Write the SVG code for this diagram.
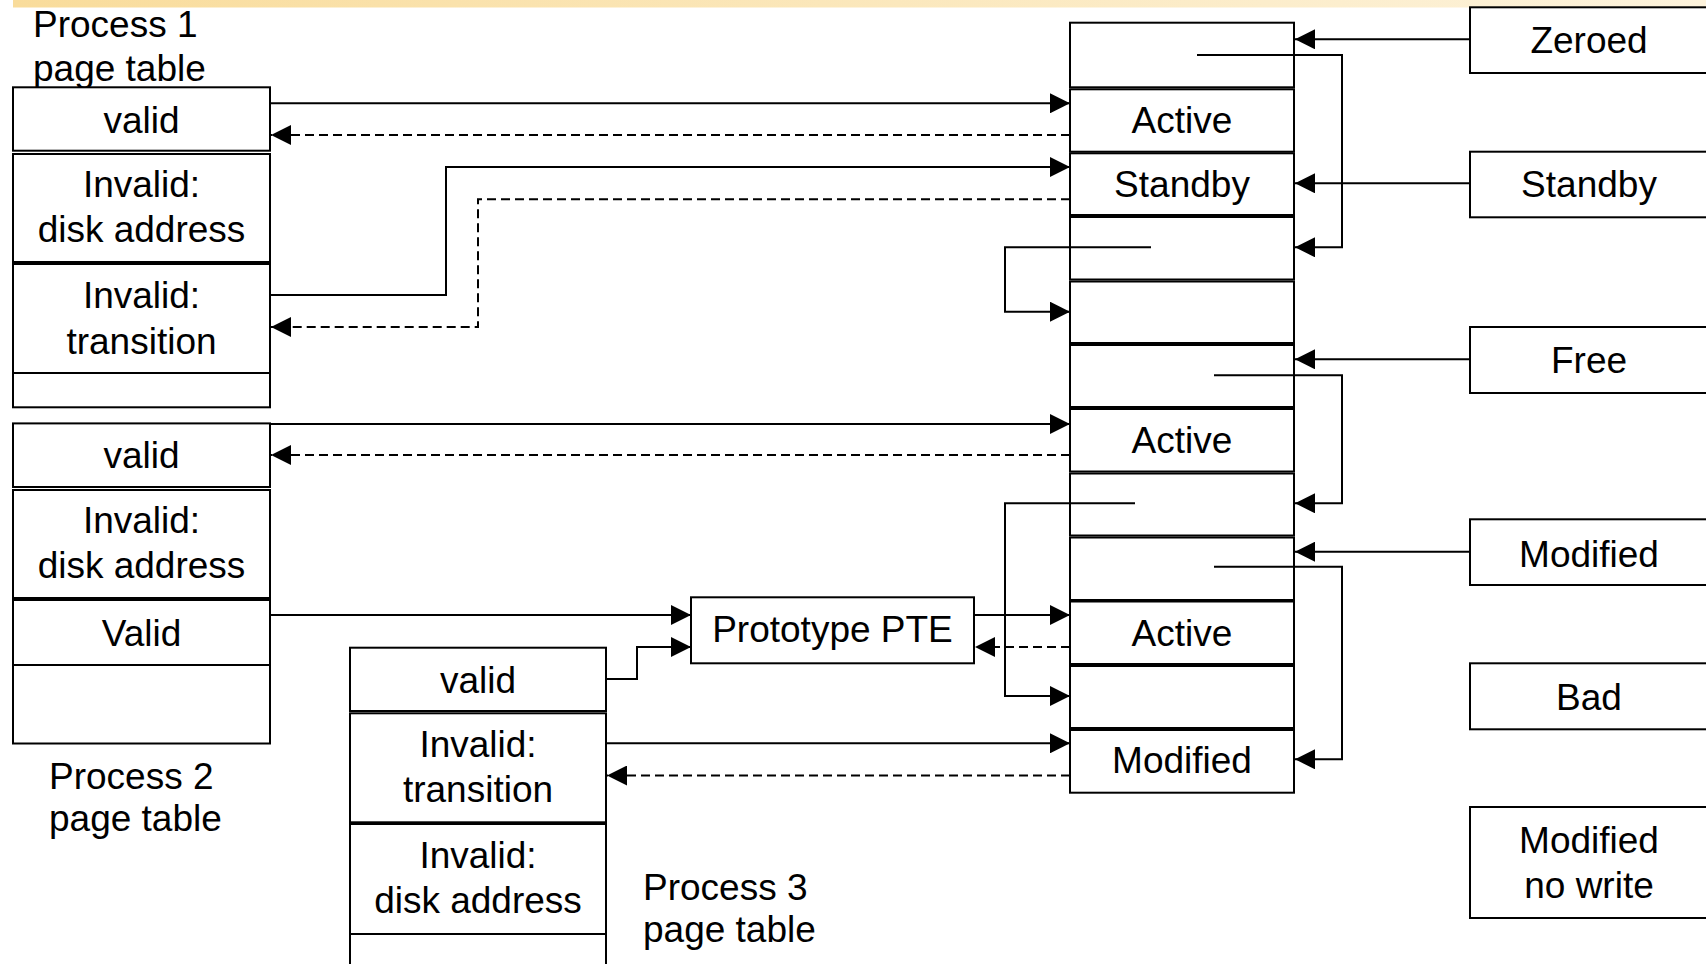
<svg xmlns="http://www.w3.org/2000/svg" width="1706" height="964" viewBox="0 0 1706 964">
  <defs>
    <linearGradient id="bannerGrad" x1="0" y1="0" x2="1" y2="0">
      <stop offset="0" stop-color="#f9dc9b"/>
      <stop offset="1" stop-color="#fdf3dc"/>
    </linearGradient>
    <marker id="arrow" markerUnits="userSpaceOnUse" markerWidth="20" markerHeight="20" refX="20" refY="10" orient="auto">
      <path d="M0,0 L20,10 L0,20 Z" fill="#000"/>
    </marker>
    <style>
      .box { fill: #fff; stroke: #000; stroke-width: 2; }
      .lbl { font-family: "Liberation Sans", Arial, sans-serif; font-size: 37px; fill: #000; }
      .mid { text-anchor: middle; }
      .wire { fill: none; stroke: #000; stroke-width: 2; marker-end: url(#arrow); }
      .dash { stroke-dasharray: 9 5; }
    </style>
  </defs>

  <rect width="1706" height="964" fill="#fff"/>
  <rect x="13" y="0" width="1693" height="7.5" fill="url(#bannerGrad)"/>

  <!-- Process 1 page table -->
  <g id="process1">
    <text class="lbl" x="33" y="37">Process 1</text>
    <text class="lbl" x="33" y="81">page table</text>
    <rect class="box" x="13" y="87.3" width="257" height="63.4"/>
    <rect class="box" x="13" y="154" width="257" height="108"/>
    <rect class="box" x="13" y="264" width="257" height="109"/>
    <rect class="box" x="13" y="373" width="257" height="34.3"/>
    <text class="lbl mid" x="141.5" y="133">valid</text>
    <text class="lbl mid" x="141.5" y="197">Invalid:</text>
    <text class="lbl mid" x="141.5" y="242">disk address</text>
    <text class="lbl mid" x="141.5" y="308">Invalid:</text>
    <text class="lbl mid" x="141.5" y="354">transition</text>
  </g>

  <!-- Process 2 page table -->
  <g id="process2">
    <rect class="box" x="13" y="423.4" width="257" height="63.6"/>
    <rect class="box" x="13" y="490" width="257" height="108"/>
    <rect class="box" x="13" y="600" width="257" height="65"/>
    <rect class="box" x="13" y="665" width="257" height="78.5"/>
    <text class="lbl mid" x="141.5" y="468">valid</text>
    <text class="lbl mid" x="141.5" y="533">Invalid:</text>
    <text class="lbl mid" x="141.5" y="578">disk address</text>
    <text class="lbl mid" x="141.5" y="645.5">Valid</text>
    <text class="lbl" x="49" y="788.5">Process 2</text>
    <text class="lbl" x="49" y="831">page table</text>
  </g>

  <!-- Process 3 page table -->
  <g id="process3">
    <rect class="box" x="350" y="647.7" width="256" height="63.3"/>
    <rect class="box" x="350" y="713.3" width="256" height="109"/>
    <rect class="box" x="350" y="824" width="256" height="110"/>
    <rect class="box" x="350" y="934" width="256" height="40"/>
    <text class="lbl mid" x="478" y="693">valid</text>
    <text class="lbl mid" x="478" y="756.5">Invalid:</text>
    <text class="lbl mid" x="478" y="801.5">transition</text>
    <text class="lbl mid" x="478" y="868">Invalid:</text>
    <text class="lbl mid" x="478" y="913">disk address</text>
    <text class="lbl" x="643" y="900">Process 3</text>
    <text class="lbl" x="643" y="941.5">page table</text>
  </g>

  <!-- Prototype PTE -->
  <g id="prototype">
    <rect class="box" x="691" y="597.3" width="283" height="66"/>
    <text class="lbl mid" x="832.5" y="642">Prototype PTE</text>
  </g>

  <!-- Page frame database -->
  <g id="pfn-database">
    <rect class="box" x="1070" y="22.7" width="224" height="64.6"/>
    <rect class="box" x="1070" y="89.3" width="224" height="62.4"/>
    <rect class="box" x="1070" y="153.3" width="224" height="61.7"/>
    <rect class="box" x="1070" y="217" width="224" height="62.5"/>
    <rect class="box" x="1070" y="281.5" width="224" height="61.5"/>
    <rect class="box" x="1070" y="345" width="224" height="62"/>
    <rect class="box" x="1070" y="409" width="224" height="62.5"/>
    <rect class="box" x="1070" y="473.5" width="224" height="62"/>
    <rect class="box" x="1070" y="537.5" width="224" height="62.5"/>
    <rect class="box" x="1070" y="601.5" width="224" height="62.5"/>
    <rect class="box" x="1070" y="666" width="224" height="62"/>
    <rect class="box" x="1070" y="730" width="224" height="62.7"/>
    <text class="lbl mid" x="1182" y="133">Active</text>
    <text class="lbl mid" x="1182" y="197">Standby</text>
    <text class="lbl mid" x="1182" y="453">Active</text>
    <text class="lbl mid" x="1182" y="646">Active</text>
    <text class="lbl mid" x="1182" y="773">Modified</text>
  </g>

  <!-- Page list heads -->
  <g id="list-zeroed">
    <rect class="box" x="1470" y="7.3" width="240" height="65.7"/>
    <text class="lbl mid" x="1589" y="53">Zeroed</text>
  </g>
  <g id="list-standby">
    <rect class="box" x="1470" y="151.7" width="240" height="65.6"/>
    <text class="lbl mid" x="1589" y="197">Standby</text>
  </g>
  <g id="list-free">
    <rect class="box" x="1470" y="327" width="240" height="66"/>
    <text class="lbl mid" x="1589" y="372.5">Free</text>
  </g>
  <g id="list-modified">
    <rect class="box" x="1470" y="519.3" width="240" height="65.7"/>
    <text class="lbl mid" x="1589" y="566.5">Modified</text>
  </g>
  <g id="list-bad">
    <rect class="box" x="1470" y="663.3" width="240" height="66"/>
    <text class="lbl mid" x="1589" y="710">Bad</text>
  </g>
  <g id="list-modified-nowrite">
    <rect class="box" x="1470" y="807" width="240" height="111"/>
    <text class="lbl mid" x="1589" y="853">Modified</text>
    <text class="lbl mid" x="1589" y="898">no write</text>
  </g>

  <!-- Connectors -->
  <g id="connectors">
    <!-- process 1 -->
    <path class="wire" d="M270,103.3 H1070"/>
    <path class="wire dash" d="M1070,135 H271"/>
    <path class="wire" d="M270,295 H446 V167 H1070"/>
    <path class="wire dash" d="M1070,199.3 H478 V327 H271"/>
    <!-- process 2 -->
    <path class="wire" d="M270,424 H1070"/>
    <path class="wire dash" d="M1070,455 H271"/>
    <path class="wire" d="M270,615 H691"/>
    <!-- process 3 -->
    <path class="wire" d="M606,679 H637 V647 H691"/>
    <path class="wire" d="M606,743.3 H1070"/>
    <path class="wire dash" d="M1070,775.5 H607"/>
    <!-- prototype PTE -->
    <path class="wire" d="M974,615 H1070"/>
    <path class="wire dash" d="M1070,647 H975"/>
    <!-- links within the database, left side -->
    <path class="wire" d="M1151,247.3 H1005 V311.7 H1070"/>
    <path class="wire" d="M1135,503.3 H1005 V696 H1070"/>
    <!-- links within the database, right side -->
    <path class="wire" d="M1197,55 H1342 V247.3 H1295"/>
    <path class="wire" d="M1214,375.3 H1342 V503.3 H1295"/>
    <path class="wire" d="M1214,566.7 H1342 V759.3 H1295"/>
    <!-- list heads -->
    <path class="wire" d="M1470,39.3 H1295"/>
    <path class="wire" d="M1470,183.3 H1295"/>
    <path class="wire" d="M1470,359.3 H1295"/>
    <path class="wire" d="M1470,551.7 H1295"/>
  </g>
</svg>
